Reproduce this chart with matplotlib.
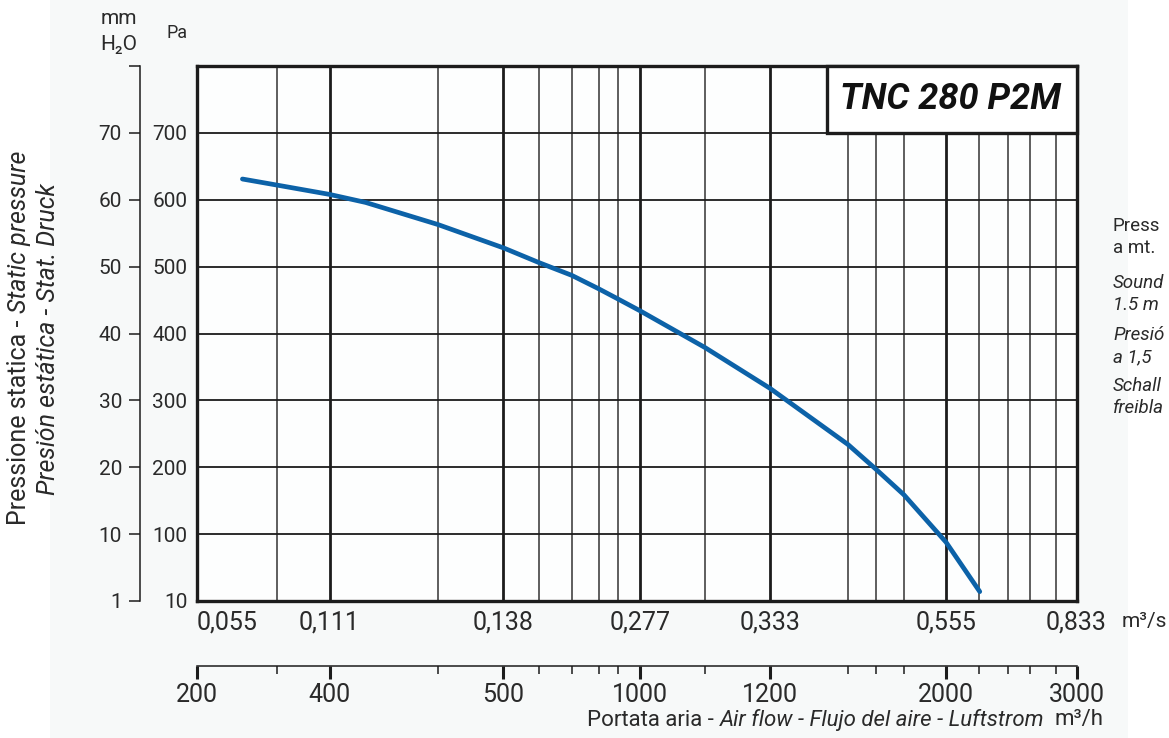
import numpy as np
import matplotlib.pyplot as plt
import matplotlib.transforms as mtransforms
from matplotlib.patches import Rectangle

plt.rcParams['font.family'] = ['Roboto', 'DejaVu Sans']

# fan curve: air flow (m3/h) vs static pressure (Pa)
flow = [252, 300, 400, 416, 450, 500, 600, 700, 800, 900, 1000, 1100, 1200,
        1400, 1600, 1800, 2000, 2205]
press = [631, 622, 608, 596, 563, 528, 506, 487, 467, 452, 434, 379, 318,
         234, 197, 159, 88, 14]

major_flow = [200, 400, 500, 1000, 1200, 2000, 3000]
flow_labels = ["200", "400", "500", "1000", "1200", "2000", "3000"]
m3s_labels = ["0,055", "0,111", "0,138", "0,277", "0,333", "0,555", "0,833"]
minor_flow = [300, 450, 600, 700, 800, 900, 1100, 1400, 1600, 1800,
              2200, 2400, 2600, 2800]

pa_ticks = [0, 100, 200, 300, 400, 500, 600, 700]
pa_labels = ["10", "100", "200", "300", "400", "500", "600", "700"]
mm_ticks = [0, 10, 20, 30, 40, 50, 60, 70, 80]
mm_labels = ["1", "10", "20", "30", "40", "50", "60", "70", ""]

# noise note on the right, cut by the page edge in the original
side_lines = ["Press", "a mt.", "Sound", "1.5 m", "Presió", "a 1,5",
              "Schall", "freibla"]
side_italic = [False, False, True, True, True, True, True, True]

# the printed grid is not a true log axis: piecewise log between its lines
grid_flow = sorted(major_flow + minor_flow)
grid_pos = [0, 79.7, 132.5, 240.8, 306.5, 342, 374.7, 401.5, 420.5, 443,
            508, 573, 651, 679, 706.8, 749, 782, 810.6, 833, 858.7, 879.5]
lg = np.log10(grid_flow)


def fwd(q):
    return np.interp(np.log10(np.maximum(q, 1e-6)), lg, grid_pos)


def inv(p):
    return 10 ** np.interp(p, grid_pos, lg)


ink = '#2a2a2a'
line = '#1c1c1c'
W_PX, H_PX = 1169, 738

fig = plt.figure(figsize=(11.69, 7.38), dpi=100)
fig.add_artist(Rectangle((50 / W_PX, 0), (1128 - 50) / W_PX, 1,
                         transform=fig.transFigure, fc='#f7f9f9', ec='none',
                         zorder=-10))

L, B = 197 / W_PX, (H_PX - 601) / H_PX
W, H = 879.5 / W_PX, 535 / H_PX
ax = fig.add_axes([L, B, W, H])
ax.set_facecolor('#fdfefe')
ax.set_xscale('function', functions=(fwd, inv))
ax.set_xlim(200, 3000)
ax.set_ylim(0, 800)

for q in major_flow[1:-1]:
    ax.axvline(q, color=line, lw=2.0, zorder=1)
for q in minor_flow:
    ax.axvline(q, color='#333333', lw=1.1, zorder=1)
for p in pa_ticks[1:]:
    ax.axhline(p, color=line, lw=1.3, zorder=1)
for s in ax.spines.values():
    s.set_linewidth(2.4)
    s.set_color(line)

ax.plot(flow, press, color='#0c62a8', lw=3.4, zorder=5,
        solid_capstyle='round', solid_joinstyle='round')

# model name box in the top right corner
bt = mtransforms.blended_transform_factory(ax.transAxes, ax.transData)
ax.add_patch(Rectangle((0.716, 700), 0.284, 100, transform=bt, fc='white',
                       ec=line, lw=2.4, zorder=6, clip_on=False))
ax.text(0.857, 750, "TNC 280 P2M", transform=bt, ha='center', va='center',
        fontsize=26, fontweight='bold', fontstyle='italic', color='#111111',
        zorder=7)

ax.set_xticks(major_flow, m3s_labels)
ax.set_xticks([], minor=True)
ax.tick_params(axis='x', length=0, pad=7, labelsize=18, labelcolor=ink)
ax.get_xticklabels()[0].set_ha('left')
ax.set_yticks(pa_ticks, pa_labels)
ax.tick_params(axis='y', length=0, pad=7, labelsize=15, labelcolor=ink)

# mm H2O scale on a second spine to the left
ax2 = ax.secondary_yaxis(-57 / 879.5, functions=(lambda p: p / 10,
                                                  lambda m: m * 10))
ax2.set_yticks(mm_ticks, mm_labels)
ax2.tick_params(length=8, width=1.1, pad=5, labelsize=15, labelcolor=ink,
                color=line)
ax2.spines['left'].set_linewidth(1.1)
ax2.spines['left'].set_color(line)

# m3/h scale below
ax3 = fig.add_axes([L, (H_PX - 666) / H_PX, W, 0.0001])
ax3.set_xscale('function', functions=(fwd, inv))
ax3.set_xlim(200, 3000)
ax3.patch.set_visible(False)
for k in ['top', 'left', 'right']:
    ax3.spines[k].set_visible(False)
ax3.spines['bottom'].set_linewidth(1.1)
ax3.spines['bottom'].set_color(line)
ax3.set_yticks([])
ax3.set_xticks(major_flow, flow_labels)
ax3.set_xticks(minor_flow, minor=True)
ax3.tick_params(axis='x', which='major', length=9, width=2.2, pad=3,
                labelsize=18, labelcolor=ink, color=line)
ax3.tick_params(axis='x', which='minor', length=5.5, width=1.1, color=line)

fig.text(1122 / W_PX, 1 - 622 / H_PX, "m³/s", ha='left', va='center',
         fontsize=15, color=ink)
fig.text(119 / W_PX, 1 - 19 / H_PX, "mm", ha='center', va='center',
         fontsize=15, color=ink)
fig.text(119 / W_PX, 1 - 45 / H_PX, "H₂O", ha='center', va='center',
         fontsize=15, color=ink)
fig.text(177 / W_PX, 1 - 33 / H_PX, "Pa", ha='center', va='center',
         fontsize=13, color=ink)

# axis titles, mixed upright / italic
yl1 = fig.text(19 / W_PX, 0.3, "Pressione statica -", rotation=90,
               ha='center', va='bottom', fontsize=18, color=ink)
yl1b = ax.annotate("Static pressure", xy=(0.5, 1), xycoords=yl1,
                   xytext=(0, 5), textcoords='offset points', rotation=90,
                   ha='center', va='bottom', fontsize=18, fontstyle='italic',
                   color=ink, annotation_clip=False)
fig.text(48 / W_PX, 1 - 339 / H_PX, "Presión estática - Stat. Druck",
         rotation=90, ha='center', va='center', fontsize=18,
         fontstyle='italic', color=ink)

xu = fig.text(1104 / W_PX, 1 - 720 / H_PX, "m³/h", ha='right', va='center',
              fontsize=16, color=ink)
xm = ax.annotate("Air flow - Flujo del aire - Luftstrom", xy=(0, 0.5),
                 xycoords=xu, xytext=(-8, 0), textcoords='offset points',
                 ha='right', va='center', fontsize=16, fontstyle='italic',
                 color=ink, annotation_clip=False)
ax.annotate("Portata aria -", xy=(0, 0.5), xycoords=xm, xytext=(-4, 0),
            textcoords='offset points', ha='right', va='center', fontsize=16,
            color=ink, annotation_clip=False)

side_y = [226, 248, 283, 305, 335, 357, 386, 408]
for txt, it, yy in zip(side_lines, side_italic, side_y):
    fig.text(1113 / W_PX, 1 - yy / H_PX, txt, ha='left', va='center',
             fontsize=13.5, fontstyle='italic' if it else 'normal', color=ink)

# centre the first rotated title line on the plot height
fig.canvas.draw()
h = yl1.get_window_extent().height + yl1b.get_window_extent().height + 7
yl1.set_y((H_PX - 338 - h / 2) / H_PX)

fig.savefig('out.png', dpi=100)
